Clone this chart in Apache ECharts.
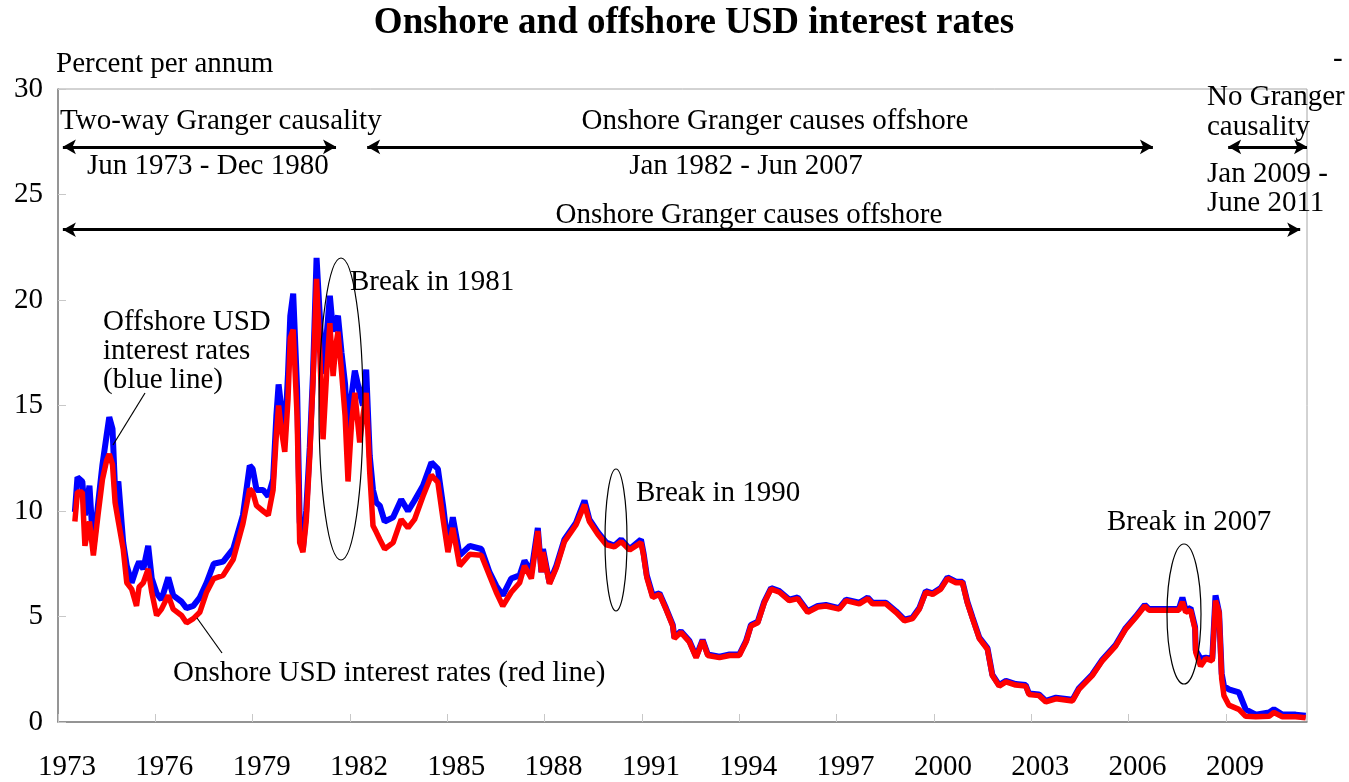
<!DOCTYPE html>
<html>
<head>
<meta charset="utf-8">
<title>Onshore and offshore USD interest rates</title>
<script src="https://cdn.jsdelivr.net/npm/echarts@6/dist/echarts.min.js"></script>
<style>
  html, body { margin: 0; padding: 0; background: #fff; }
  #chart { width: 1349px; height: 782px; }
</style>
</head>
<body>
<div id="chart"></div>
<script>
// decimal years
var dates = [
  1973.52, 1973.60, 1973.75, 1973.83, 1973.97, 1974.09, 1974.24, 1974.37, 1974.50, 1974.58,
  1974.68, 1974.76, 1974.86, 1975.01, 1975.12, 1975.27, 1975.42, 1975.50, 1975.63, 1975.78,
  1975.89, 1976.04, 1976.19, 1976.40, 1976.55, 1976.81, 1976.96, 1977.17, 1977.37, 1977.58,
  1977.80, 1978.09, 1978.40, 1978.70, 1978.91, 1979.00, 1979.12, 1979.32, 1979.48, 1979.63,
  1979.73, 1979.80, 1979.89, 1979.99, 1980.09, 1980.16, 1980.25, 1980.37, 1980.45, 1980.55,
  1980.65, 1980.76, 1980.86, 1980.97, 1981.07, 1981.17, 1981.29, 1981.38, 1981.48, 1981.56,
  1981.63, 1981.74, 1981.85, 1981.94, 1982.05, 1982.15, 1982.30, 1982.40, 1982.50, 1982.61,
  1982.71, 1982.81, 1982.92, 1983.07, 1983.33, 1983.58, 1983.79, 1983.99, 1984.25, 1984.51,
  1984.71, 1984.87, 1985.02, 1985.17, 1985.38, 1985.69, 1986.05, 1986.30, 1986.51, 1986.71,
  1986.97, 1987.23, 1987.38, 1987.59, 1987.79, 1987.90, 1987.95, 1988.15, 1988.36, 1988.61,
  1988.97, 1989.23, 1989.38, 1989.64, 1989.90, 1990.15, 1990.36, 1990.62, 1990.97, 1991.05,
  1991.15, 1991.33, 1991.54, 1991.74, 1991.95, 1992.00, 1992.20, 1992.46, 1992.67, 1992.87,
  1993.03, 1993.39, 1993.70, 1994.00, 1994.21, 1994.36, 1994.57, 1994.77, 1994.98, 1995.24,
  1995.54, 1995.80, 1996.11, 1996.42, 1996.67, 1997.08, 1997.29, 1997.70, 1997.96, 1998.11,
  1998.52, 1998.83, 1999.09, 1999.34, 1999.55, 1999.75, 1999.96, 2000.21, 2000.42, 2000.68,
  2000.88, 2001.03, 2001.19, 2001.40, 2001.65, 2001.80, 2002.01, 2002.22, 2002.52, 2002.83,
  2002.93, 2003.24, 2003.45, 2003.76, 2004.27, 2004.47, 2004.88, 2005.19, 2005.60, 2005.91,
  2006.22, 2006.50, 2006.63, 2007.55, 2007.66, 2007.76, 2007.91, 2008.05, 2008.07, 2008.22,
  2008.38, 2008.58, 2008.68, 2008.79, 2008.87, 2008.94, 2009.09, 2009.40, 2009.61, 2009.92,
  2010.33, 2010.48, 2010.74, 2011.15, 2011.46
];

// offshore USD rates (blue line)
var offshore = [
  9.95, 11.6, 11.4, 9.8, 11.2, 8.2, 10.4, 12.2, 13.6, 14.45,
  13.9, 11.0, 11.4, 8.5, 7.4, 6.6, 7.3, 7.6, 7.25, 8.35,
  6.8, 6.1, 5.8, 6.85, 6.0, 5.7, 5.4, 5.5, 5.9, 6.6,
  7.5, 7.6, 8.2, 9.8, 12.15, 12.0, 11.0, 11.0, 10.7, 11.5,
  14.5, 16.0, 14.8, 13.5, 16.5, 19.25, 20.3, 15.8, 9.5, 8.2,
  10.0, 13.0, 16.5, 22.0, 19.25, 16.5, 18.5, 20.2, 18.5, 19.0,
  19.25, 17.5, 16.0, 13.2, 15.5, 16.65, 15.6, 15.0, 16.7, 12.6,
  11.0, 10.4, 10.25, 9.5, 9.7, 10.55, 10.0, 10.5, 11.2, 12.3,
  12.0, 10.25, 8.35, 9.7, 7.9, 8.35, 8.2, 7.1, 6.45, 6.0,
  6.8, 6.95, 7.65, 7.1, 9.2, 7.1, 8.2, 6.6, 7.4, 8.65,
  9.45, 10.5, 9.6, 9.0, 8.5, 8.35, 8.65, 8.2, 8.65, 8.0,
  6.95, 6.0, 6.1, 5.4, 4.6, 4.0, 4.3, 3.85, 3.1, 3.9,
  3.2, 3.1, 3.2, 3.2, 3.85, 4.6, 4.75, 5.7, 6.35, 6.2,
  5.8, 5.9, 5.25, 5.5, 5.55, 5.4, 5.8, 5.65, 5.9, 5.65,
  5.65, 5.25, 4.85, 4.95, 5.4, 6.2, 6.1, 6.35, 6.85, 6.65,
  6.65, 5.7, 4.95, 4.0, 3.5, 2.25, 1.75, 1.95, 1.8, 1.75,
  1.35, 1.3, 1.0, 1.15, 1.05, 1.6, 2.25, 2.95, 3.65, 4.45,
  5.0, 5.55, 5.35, 5.35, 5.9, 5.3, 5.4, 4.5, 3.4, 3.0,
  3.05, 3.0, 6.0, 5.2, 2.3, 1.7, 1.55, 1.4, 0.6, 0.35,
  0.45, 0.6, 0.35, 0.35, 0.3
];

// onshore USD rates (red line)
var onshore = [
  9.5, 10.9, 10.9, 8.35, 9.5, 7.9, 9.9, 11.5, 12.4, 12.7,
  12.2, 10.4, 9.5, 8.2, 6.6, 6.3, 5.5, 6.4, 6.6, 7.25,
  6.15, 5.05, 5.35, 6.0, 5.35, 5.05, 4.7, 4.9, 5.2, 6.15,
  6.8, 6.95, 7.7, 9.4, 11.05, 10.9, 10.25, 10.0, 9.8, 11.0,
  13.6, 15.0, 13.8, 12.8, 15.3, 18.2, 18.6, 14.5, 8.5, 8.05,
  9.5, 12.6, 16.1, 21.0, 17.5, 13.4, 16.8, 18.9, 16.4, 17.8,
  18.5, 16.6, 14.5, 11.4, 14.2, 15.6, 13.25, 14.5, 15.6, 11.8,
  9.3, 9.0, 8.65, 8.2, 8.5, 9.6, 9.2, 9.6, 10.7, 11.7,
  11.35, 9.6, 8.05, 9.2, 7.4, 7.95, 7.9, 6.95, 6.15, 5.5,
  6.15, 6.6, 7.4, 6.8, 9.05, 7.1, 8.05, 6.55, 7.3, 8.55,
  9.35, 10.3, 9.5, 8.9, 8.4, 8.3, 8.55, 8.15, 8.5, 7.9,
  6.85, 5.9, 6.05, 5.35, 4.55, 3.95, 4.25, 3.8, 3.05, 3.85,
  3.15, 3.05, 3.15, 3.15, 3.8, 4.55, 4.7, 5.65, 6.3, 6.15,
  5.75, 5.85, 5.2, 5.45, 5.5, 5.35, 5.75, 5.6, 5.85, 5.6,
  5.6, 5.2, 4.8, 4.9, 5.35, 6.15, 6.05, 6.3, 6.8, 6.6,
  6.6, 5.65, 4.9, 3.95, 3.45, 2.2, 1.7, 1.9, 1.75, 1.7,
  1.3, 1.25, 0.95, 1.1, 1.0, 1.55, 2.2, 2.9, 3.6, 4.4,
  4.95, 5.5, 5.3, 5.3, 5.7, 5.2, 5.3, 4.4, 3.3, 2.65,
  3.0, 2.9, 5.75, 5.2, 2.05, 1.25, 0.8, 0.6, 0.27, 0.25,
  0.27, 0.45, 0.25, 0.25, 0.2
];

// causality periods drawn as double arrows: [from, to, level]
var periodArrows = [
  [1973.15, 1981.57, 27.26],
  [1982.53, 2006.75, 27.26],
  [2009.07, 2011.5, 27.26],
  [1973.15, 2011.29, 23.33]
];

var serif = '"Liberation Serif", "Times New Roman", serif';
var chart = echarts.init(document.getElementById('chart'));

function txt(x, y, s, align) {
  return {
    type: 'text', x: x, y: y, z: 100,
    style: { text: s, font: '29px ' + serif, fill: '#000', textAlign: align || 'left', textVerticalAlign: 'middle' }
  };
}
function ell(cx, cy, rx, ry) {
  return {
    type: 'ellipse', z: 100, shape: { cx: cx, cy: cy, rx: rx, ry: ry },
    style: { fill: null, stroke: '#000', lineWidth: 1.2 }
  };
}
function seg(x1, y1, x2, y2) {
  return {
    type: 'line', z: 100, shape: { x1: x1, y1: y1, x2: x2, y2: y2 },
    style: { stroke: '#000', lineWidth: 1.2 }
  };
}

var option = {
  animation: false,
  backgroundColor: '#fff',
  textStyle: { fontFamily: serif },
  grid: { left: 58, right: 42, top: 89, bottom: 59, show: true, borderColor: '#a6a6a6', borderWidth: 1 },
  xAxis: {
    type: 'value', min: 1973, max: 2011.5, interval: 3,
    axisLine: { show: true, lineStyle: { color: '#808080', width: 1.5 } },
    axisTick: { show: true, inside: true, length: 8, lineStyle: { color: '#c8c8c8' } },
    splitLine: { show: false },
    axisLabel: {
      fontSize: 29, fontFamily: serif, color: '#000', margin: 31, padding: [0, 0, 0, 18],
      showMaxLabel: false,
      formatter: function (v) { return (v - 1973) % 3 === 0 ? String(v) : ''; }
    }
  },
  yAxis: {
    type: 'value', min: 0, max: 30, interval: 5,
    axisLine: { show: true, lineStyle: { color: '#808080', width: 1.5 } },
    axisTick: { show: true, inside: true, length: 8, lineStyle: { color: '#c8c8c8' } },
    splitLine: { show: false },
    axisLabel: { fontSize: 29, fontFamily: serif, color: '#000', margin: 15 }
  },
  series: [
    {
      name: 'Offshore', type: 'line', showSymbol: false, z: 2,
      data: dates.map(function (d, i) { return [d, offshore[i]]; }),
      lineStyle: { color: '#0000ff', width: 6 }, itemStyle: { color: '#0000ff' }
    },
    {
      name: 'Onshore', type: 'line', showSymbol: false, z: 3,
      data: dates.map(function (d, i) { return [d, onshore[i]]; }),
      lineStyle: { color: '#ff0000', width: 5.5 }, itemStyle: { color: '#ff0000' },
      markLine: {
        silent: true, symbol: ['arrow', 'arrow'], symbolSize: [11, 13],
        label: { show: false },
        lineStyle: { color: '#000', type: 'solid', width: 3 },
        data: periodArrows.map(function (a) {
          return [{ coord: [a[0], a[2]] }, { coord: [a[1], a[2]] }];
        })
      }
    }
  ],
  graphic: [
    {
      type: 'text', x: 694, y: 23, z: 100,
      style: { text: 'Onshore and offshore USD interest rates', font: 'bold 37px ' + serif, fill: '#000', textAlign: 'center', textVerticalAlign: 'middle' }
    },
    txt(56, 64, 'Percent per annum'),
    txt(1333, 59, '-'),
    txt(60, 121, 'Two-way Granger causality'),
    txt(87, 166, 'Jun 1973 - Dec 1980'),
    txt(775, 121, 'Onshore Granger causes offshore', 'center'),
    txt(746, 166, 'Jan 1982 - Jun 2007', 'center'),
    txt(1207, 97, 'No Granger'),
    txt(1207, 127, 'causality'),
    txt(1207, 174, 'Jan 2009 -'),
    txt(1207, 203, 'June 2011'),
    txt(749, 215, 'Onshore Granger causes offshore', 'center'),
    txt(350, 282, 'Break in 1981'),
    txt(103, 322, 'Offshore USD'),
    txt(103, 351, 'interest rates'),
    txt(103, 380, '(blue line)'),
    txt(636, 493, 'Break in 1990'),
    txt(1107, 522, 'Break in 2007'),
    txt(173, 673, 'Onshore USD interest rates (red line)'),
    seg(145, 393, 113, 445),
    seg(197, 618, 222, 653),
    ell(341, 409, 22, 151),
    ell(616, 540, 11, 71),
    ell(1184, 614, 17, 70)
  ]
};

chart.setOption(option);
</script>
</body>
</html>
